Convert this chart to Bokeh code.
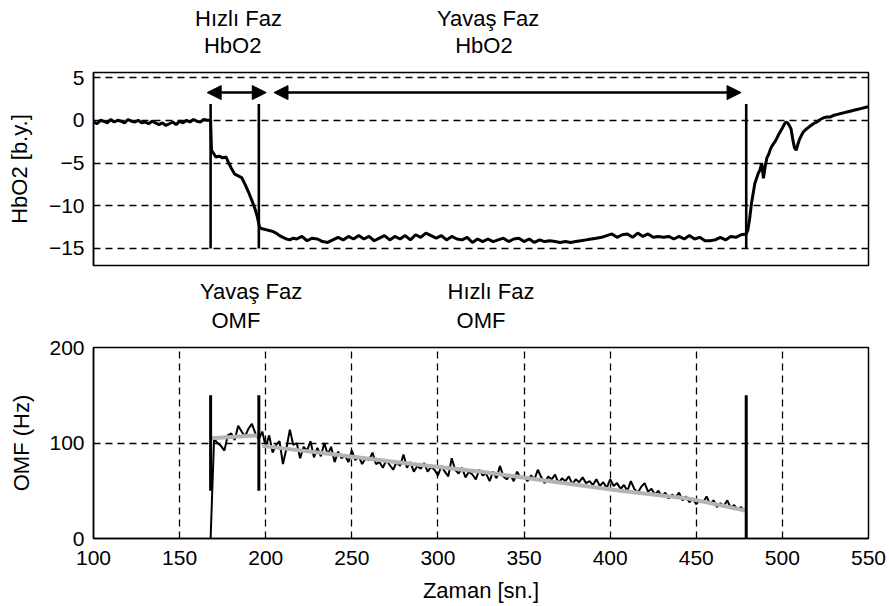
from bokeh.plotting import figure
from bokeh.layouts import column
from bokeh.models import Arrow, NormalHead, FixedTicker, Range1d, ColumnDataSource
from bokeh.core.properties import value
from bokeh.embed import file_html
from bokeh.resources import INLINE

# ---------------- data ----------------
hbo2_time = [100, 102, 104, 106, 108, 110, 112, 114, 116, 118, 120, 122, 124, 126, 128, 130, 132,
             134, 136, 138, 140, 142, 144, 146, 148, 150, 152, 154, 156, 158, 160, 162, 164, 166,
             168, 168.5, 169.5, 171, 173, 175, 177, 178.5, 180, 182, 184, 186, 188, 190, 192,
             193.5, 195, 196.5, 198, 200, 202, 204, 206, 208, 210, 212, 214, 216,
             218, 221, 224, 227, 230, 233, 236, 239, 242, 245, 248, 251, 254, 257, 260, 263,
             266, 269, 272, 275, 278, 281, 284, 287, 290, 293, 296, 299, 302, 305, 308, 311,
             314, 317, 320, 323, 326, 329, 332, 335, 338, 341, 344, 347, 350, 353, 356, 359,
             362, 365, 368, 371, 374, 377, 380, 383, 386, 389, 392, 395, 398, 401, 404, 407,
             410, 413, 416, 419, 422, 425, 428, 431, 434, 437, 440, 443, 446, 449, 452, 455,
             458, 461, 464, 467, 470, 473, 476,
             479, 480, 481, 482, 483, 484, 485, 486, 487, 488, 489, 490, 491, 492, 493, 494,
             496, 498, 500, 501, 502, 503, 504, 505, 506, 507, 508, 509, 510, 512, 514, 516,
             518, 520, 522, 524, 526, 528, 530, 532, 534, 536, 538, 540, 542, 544, 546, 548, 550]
hbo2_value = [-0.2, -0.4, 0.0, -0.1, -0.3, 0.1, -0.2, 0.0, -0.1, -0.3, 0.1, -0.1, -0.2, 0.0, -0.3,
              -0.2, -0.4, -0.1, -0.3, -0.5, -0.3, -0.6, -0.4, -0.2, -0.5, -0.1, -0.3, 0.0, -0.2,
              0.1, -0.1, -0.2, 0.1, 0.0,
              0.0, -3.5, -3.8, -4.3, -4.2, -4.4, -4.3, -5.0, -5.6, -6.3, -6.5, -6.7, -7.5, -8.4,
              -9.4, -10.2, -11.2, -12.6, -12.7, -12.8, -12.9, -13.0, -13.2, -13.5, -13.7, -13.9,
              -14.0, -13.8,
              -13.9, -13.6, -14.1, -13.8, -13.9, -14.2, -14.3, -14.0, -13.7, -14.0, -13.6, -13.9,
              -13.5, -13.9, -13.6, -14.1, -13.8, -13.5, -14.0, -13.6, -13.9, -13.5, -14.0, -13.4,
              -13.7, -13.2, -13.5, -13.8, -13.5, -14.0, -13.6, -13.9, -14.0, -13.7, -14.3, -13.9,
              -14.2, -13.9, -14.2, -14.0, -13.8, -14.2, -13.9, -13.8, -14.2, -13.9, -14.3, -14.0,
              -14.2, -14.1, -14.2, -14.3, -14.2, -14.3, -14.2, -14.1, -14.0, -13.9, -13.8, -13.7,
              -13.5, -13.3, -13.7, -13.4, -13.3, -13.7, -13.2, -13.6, -13.3, -13.7, -13.6, -13.7,
              -13.6, -13.9, -13.6, -13.9, -13.5, -13.9, -13.7, -14.1, -14.1, -14.0, -13.7, -14.0,
              -13.6, -13.7, -13.4,
              -13.3, -12.8, -11.5, -9.8, -8.6, -7.4, -6.8, -6.2, -5.8, -5.0, -6.8, -5.4, -4.4,
              -4.0, -3.4, -3.0, -2.4, -1.6, -0.9, -0.5, -0.2, -0.3, -0.6, -1.0, -2.2, -3.2, -3.5,
              -2.8, -2.2, -1.4, -1.0, -0.7, -0.4, -0.2, 0.1, 0.3, 0.4, 0.4, 0.6, 0.7, 0.8, 0.9,
              1.0, 1.1, 1.2, 1.3, 1.4, 1.5, 1.6]

omf_time = [168, 170, 172, 174, 176, 178, 180, 182, 184, 186, 188, 190, 192, 194, 196, 198, 200,
            202, 204, 206, 208, 210, 212, 214, 216, 218, 220, 222, 224, 226, 228, 230, 232, 234,
            236, 238, 240, 242, 244, 246, 248, 250, 252, 254, 256, 258, 260, 262, 264, 266, 268,
            270, 272, 274, 276, 278, 280, 282, 284, 286, 288, 290, 292, 294, 296, 298, 300, 302,
            304, 306, 308, 310, 312, 314, 316, 318, 320, 322, 324, 326, 328, 330, 332, 334, 336,
            338, 340, 342, 344, 346, 348, 350, 352, 354, 356, 358, 360, 362, 364, 366, 368, 370,
            372, 374, 376, 378, 380, 382, 384, 386, 388, 390, 392, 394, 396, 398, 400, 402, 404,
            406, 408, 410, 412, 414, 416, 418, 420, 422, 424, 426, 428, 430, 432, 434, 436, 438,
            440, 442, 444, 446, 448, 450, 452, 454, 456, 458, 460, 462, 464, 466, 468, 470, 472,
            474, 476, 478]
omf_value = [0, 104, 100, 97, 92, 108, 110, 103, 118, 112, 107, 115, 120, 110, 104, 112, 96,
             108, 90, 98, 102, 78, 94, 114, 98, 100, 84, 96, 92, 102, 85, 95, 86, 100,
             88, 96, 80, 91, 84, 87, 80, 92, 82, 86, 78, 84, 82, 90, 78, 80, 74,
             82, 77, 72, 80, 76, 88, 74, 80, 70, 76, 73, 79, 70, 75, 72, 66, 76,
             70, 65, 84, 72, 68, 74, 64, 70, 67, 62, 72, 66, 68, 60, 70, 63, 76,
             65, 62, 67, 60, 70, 63, 65, 60, 66, 62, 72, 64, 58, 65, 62, 67, 58,
             63, 60, 65, 57, 62, 59, 64, 58, 60, 56, 62, 55, 59, 53, 62, 55, 58,
             52, 56, 50, 60, 52, 48, 54, 58, 49, 52, 46, 50, 44, 48, 42, 46, 43,
             48, 40, 44, 38, 42, 36, 40, 38, 44, 36, 40, 33, 37, 34, 40, 32, 35,
             30, 33, 28]

# gray fitted trend (two pieces)
fit_time = [[168, 196], [198, 240, 280, 325, 365, 406, 445, 479]]
fit_value = [[105, 108], [97, 88, 79, 70, 60, 50, 42, 29]]

# phase markers
marker_time = [168, 196, 479]
hbo2_marker_low = [-15, -15, -15]
hbo2_marker_high = [1.9, 1.9, 1.9]
omf_marker_low = [50, 50, 0]
omf_marker_high = [150, 150, 150]

# phase arrows (HbO2 panel)
arrow_start = [166, 204.8]
arrow_end = [200.3, 476]
arrow_level = [3.25, 3.25]

# annotation texts (strip rows, px above each strip's bottom)
hbo2_notes = ["Hızlı Faz", "HbO2", "Yavaş Faz", "HbO2"]
hbo2_note_x = [184.2, 180.8, 329.1, 326.7]
hbo2_note_row = [42, 15, 42, 15]
omf_notes = ["Yavaş Faz", "OMF", "Hızlı Faz", "OMF"]
omf_note_x = [191.5, 182.7, 330.8, 325.0]
omf_note_row = [43, 14.5, 43, 14.5]

hbo2_ticks = [-15, -10, -5, 0, 5]
omf_ticks = [0, 100, 200]
time_ticks = [100, 150, 200, 250, 300, 350, 400, 450, 500, 550]

FONT = "Liberation Sans"
TICK_SIZE = "21px"
TEXT_SIZE = "22px"
x_range = Range1d(100, 550)


def style(p):
    p.outline_line_color = "black"
    p.outline_line_width = 1.5
    p.outline_line_alpha = 1.0
    p.background_fill_color = "white"
    p.border_fill_color = "white"
    for ax in p.axis:
        ax.axis_line_color = "black"
        ax.axis_line_width = 1.5
        ax.major_tick_in = 5
        ax.major_tick_out = 0
        ax.minor_tick_line_color = None
        ax.major_tick_line_color = "black"
        ax.major_label_text_font = FONT
        ax.major_label_text_font_size = TICK_SIZE
        ax.major_label_text_color = "black"
        ax.axis_label_text_font = FONT
        ax.axis_label_text_font_size = TEXT_SIZE
        ax.axis_label_text_font_style = "normal"
        ax.axis_label_text_color = "black"
    for g in p.grid:
        g.grid_line_color = "black"
        g.grid_line_dash = "7 5"
        g.grid_line_width = 1.3


def text_strip(height, notes, xs, rows):
    s = figure(width=889, height=height, x_range=x_range, y_range=Range1d(0, height),
               x_axis_location=None, y_axis_location=None, output_backend="svg",
               toolbar_location=None, min_border_left=93, min_border_right=21,
               min_border_top=0, min_border_bottom=0)
    s.outline_line_color = None
    s.xgrid.visible = False
    s.ygrid.visible = False
    s.background_fill_color = "white"
    s.border_fill_color = "white"
    s.text(x=xs, y=rows, text=notes, text_align="center", text_baseline="alphabetic",
           text_font=value(FONT), text_font_size=value(TEXT_SIZE), text_color="black")
    return s


strip1 = text_strip(60, hbo2_notes, hbo2_note_x, hbo2_note_row)

# ---------------- top panel ----------------
p1 = figure(width=889, height=220, x_range=x_range, y_range=Range1d(-17, 5.6),
            x_axis_location=None, output_backend="svg", toolbar_location=None,
            min_border_left=93, min_border_right=21, min_border_top=12, min_border_bottom=15)
p1.yaxis.ticker = FixedTicker(ticks=hbo2_ticks)
p1.yaxis.axis_label = "HbO2 [b.y.]"
p1.yaxis.major_label_standoff = 9
p1.yaxis.axis_label_standoff = 14
style(p1)
p1.xgrid.visible = False

p1.line(hbo2_time, hbo2_value, line_color="black", line_width=3)
p1.segment(x0=marker_time, y0=hbo2_marker_low, x1=marker_time, y1=hbo2_marker_high,
           line_color="black", line_width=2.6)

arrow_src = ColumnDataSource(dict(x0=arrow_start, x1=arrow_end, y=arrow_level))
p1.add_layout(Arrow(x_start="x0", y_start="y", x_end="x1", y_end="y", source=arrow_src,
                    line_width=2.6, line_color="black",
                    start=NormalHead(size=14, fill_color="black", line_color="black"),
                    end=NormalHead(size=14, fill_color="black", line_color="black")))

strip2 = text_strip(54, omf_notes, omf_note_x, omf_note_row)

# ---------------- bottom panel ----------------
p2 = figure(width=889, height=272, x_range=x_range, y_range=Range1d(0, 200),
            output_backend="svg", toolbar_location=None,
            min_border_left=93, min_border_right=21, min_border_top=13, min_border_bottom=68)
p2.xaxis.ticker = FixedTicker(ticks=time_ticks)
p2.yaxis.ticker = FixedTicker(ticks=omf_ticks)
p2.xaxis.axis_label = "Zaman [sn.]"
p2.yaxis.axis_label = "OMF (Hz)"
p2.yaxis.major_label_standoff = 9
p2.yaxis.axis_label_standoff = 12
p2.xaxis.major_label_standoff = 12
p2.xaxis.axis_label_standoff = 10
style(p2)

p2.line(omf_time, omf_value, line_color="black", line_width=2.0)
p2.multi_line(xs=fit_time, ys=fit_value, line_color="#b4b4b4", line_width=4)
p2.segment(x0=marker_time, y0=omf_marker_low, x1=marker_time, y1=omf_marker_high,
           line_color="black", line_width=3)

layout = column(strip1, p1, strip2, p2, spacing=0)
open("out.html", "w").write(file_html(layout, INLINE))
